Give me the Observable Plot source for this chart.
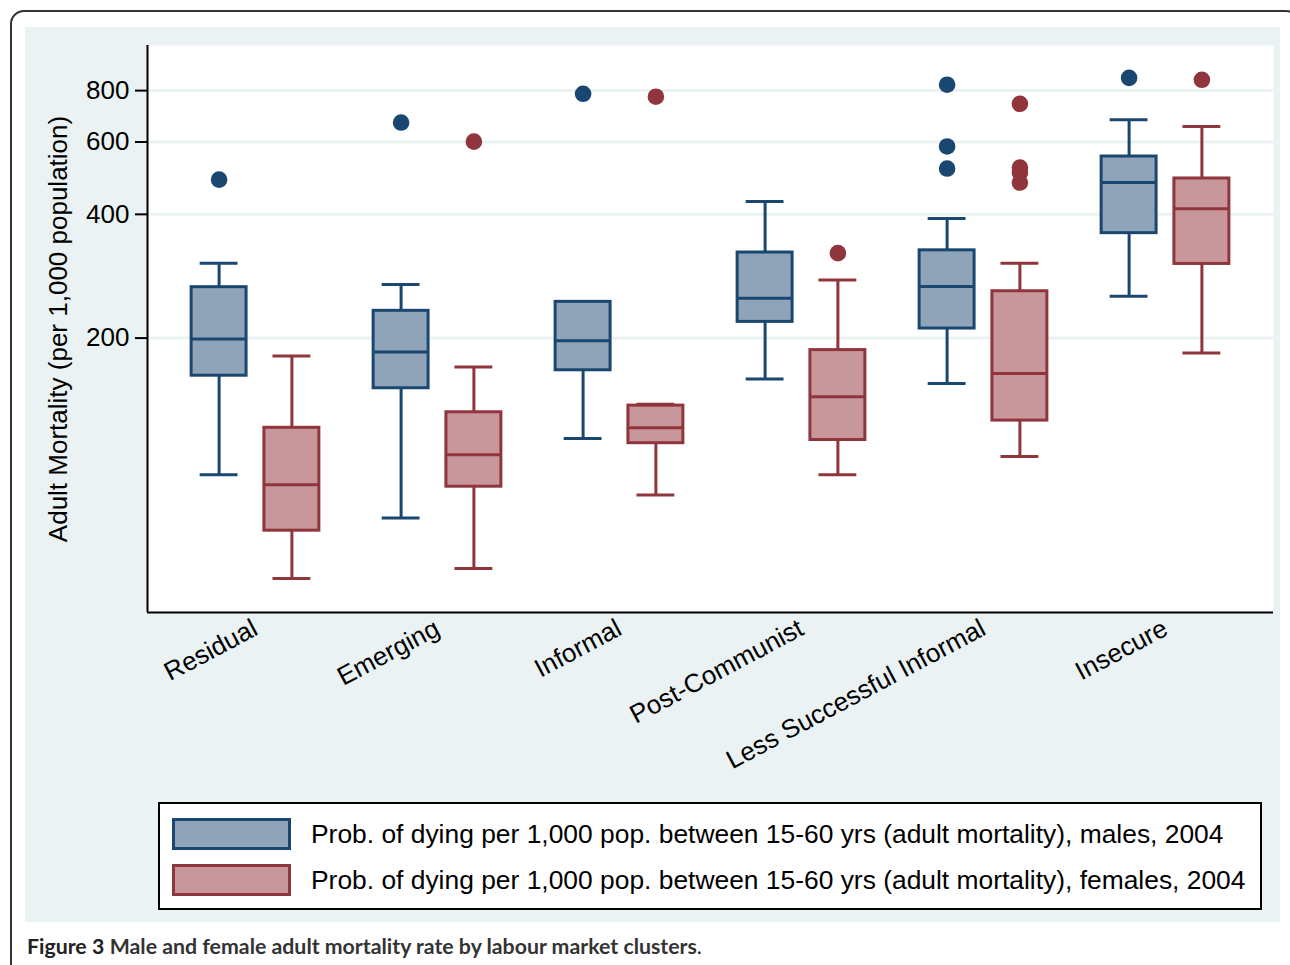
<!DOCTYPE html>
<html>
<head>
<meta charset="utf-8">
<script src="https://cdn.jsdelivr.net/npm/d3@7"></script>
<script src="https://cdn.jsdelivr.net/npm/@observablehq/plot@0.6"></script>
<style>
  html, body { margin: 0; padding: 0; background: #fff; overflow: hidden; width: 1290px; height: 965px; }
  #border { position: absolute; left: 10px; top: 10px; width: 1290px; height: 1000px; border: 2px solid #333; border-radius: 14px; box-sizing: border-box; }
  #panel { position: absolute; left: 25px; top: 27px; width: 1255px; height: 895px; background: #eaf2f3; }
  #chart { position: absolute; left: 0; top: 0; }
  #legend { position: absolute; left: 133px; top: 775px; width: 1104px; height: 108px; background: #fff; border: 2px solid #000; box-sizing: border-box; font-family: "Liberation Sans", Arial, sans-serif; font-size: 26.4px; color: #000; }
  .item { position: absolute; left: 12px; height: 32px; display: flex; align-items: center; }
  .sw { width: 119px; height: 32px; box-sizing: border-box; border: 3px solid; margin-right: 20px; flex: none; }
  #caption { position: absolute; left: 27px; top: 933px; font-family: Lato, "Open Sans", sans-serif; font-size: 21.3px; color: #222; white-space: nowrap; }
  #caption b { font-weight: 700; }
  #caption span { font-weight: 700; color: #333; }
</style>
</head>
<body>
<div id="border"></div>
<div id="panel">
  <div id="chart"></div>
  <div id="legend"></div>
</div>
<div id="caption"><b>Figure 3</b> <span>Male and female adult mortality rate by labour market clusters</span>.</div>
<script>
// ---- data ----
const clusters = ["Residual", "Emerging", "Informal", "Post-Communist", "Less Successful Informal", "Insecure"];
const sexes = ["Males", "Females"];
const legendLabels = [
  "Prob. of dying per 1,000 pop. between 15-60 yrs (adult mortality), males, 2004",
  "Prob. of dying per 1,000 pop. between 15-60 yrs (adult mortality), females, 2004"
];
const yTicks = [200, 400, 600, 800];
const yDomain = [43, 1030];

const maleLow  = [93, 73, 114, 159, 155, 253];
const maleQ1   = [162, 151, 167, 219, 211, 360];
const maleMed  = [199, 185, 197, 250, 267, 478];
const maleQ3   = [266, 233, 245, 323, 327, 553];
const maleHigh = [304, 270, 245, 430, 391, 680];
const maleOut  = [[486], [669], [786], [], [827, 585, 517], [859]];

const femaleLow  = [52, 55, 83, 93, 103, 184];
const femaleQ1   = [68, 87, 111, 113, 126, 303];
const femaleMed  = [88, 104, 121, 144, 164, 413];
const femaleQ3   = [121, 132, 137, 187, 260, 489];
const femaleHigh = [181, 170, 138, 277, 304, 654];
const femaleOut  = [[], [601], [773], [322], [743, 520, 506, 478], [850]];

const strokeColors = ["#1a476f", "#90353b"];
const fillColors = ["#8fa4b9", "#c8979b"];

// layout constants (in category units along x)
const sexOffset = [-0.2, 0.2];
const boxHalf = 0.151;
const capHalf = 0.104;
const xPad = 0.0934;

// ---- tables ----
const stats = [
  [maleLow, maleQ1, maleMed, maleQ3, maleHigh],
  [femaleLow, femaleQ1, femaleMed, femaleQ3, femaleHigh]
];
const rows = [];
clusters.forEach((c, i) => sexes.forEach((s, j) => {
  const [lo, q1, md, q3, hi] = stats[j];
  rows.push({ci: i, si: j, cluster: c, sex: s, pos: i + sexOffset[j],
    low: lo[i], q1: q1[i], med: md[i], q3: q3[i], high: hi[i]});
}));
const outliers = [];
clusters.forEach((c, i) => {
  [maleOut, femaleOut].forEach((arr, j) => arr[i].forEach(v =>
    outliers.push({cluster: c, sex: sexes[j], pos: i + sexOffset[j], value: v})));
});

const font = '"Liberation Sans", Arial, sans-serif';
const sw = 3;
const left = d => d.pos - boxHalf, right = d => d.pos + boxHalf;
const capL = d => d.pos - capHalf, capR = d => d.pos + capHalf;

const chart = Plot.plot({
  width: 1255,
  height: 770,
  marginLeft: 122,
  marginRight: 7,
  marginTop: 18,
  marginBottom: 185,
  style: {fontFamily: font, fontSize: "26px", background: "transparent", color: "#000", overflow: "visible"},
  x: {domain: [-0.5 - xPad, clusters.length - 0.5 + xPad]},
  y: {type: "log", domain: yDomain},
  color: {domain: sexes, range: strokeColors},
  marks: [
    Plot.frame({fill: "white", stroke: "none"}),
    Plot.ruleY(yTicks, {stroke: "#eaf2f3", strokeWidth: 3}),
    // whiskers
    Plot.ruleX(rows, {x: "pos", y1: "q3", y2: "high", stroke: "sex", strokeWidth: sw}),
    Plot.ruleX(rows, {x: "pos", y1: "low", y2: "q1", stroke: "sex", strokeWidth: sw}),
    Plot.ruleY(rows, {y: "high", x1: capL, x2: capR, stroke: "sex", strokeWidth: sw}),
    Plot.ruleY(rows, {y: "low", x1: capL, x2: capR, stroke: "sex", strokeWidth: sw}),
    // boxes
    Plot.rect(rows, {x1: left, x2: right, y1: "q1", y2: "q3", fill: d => fillColors[d.si], stroke: "sex", strokeWidth: sw}),
    Plot.ruleY(rows, {y: "med", x1: left, x2: right, stroke: "sex", strokeWidth: sw}),
    // outliers
    Plot.dot(outliers, {x: "pos", y: "value", fill: "sex", r: 8.3, stroke: "none"}),
    // axes
    Plot.ruleY([yDomain[0]], {stroke: "black", strokeWidth: 2}),
    Plot.ruleX([-0.5 - xPad], {stroke: "black", strokeWidth: 2}),
    Plot.axisY({ticks: yTicks, tickSize: 12, strokeWidth: 2, text: null,
      label: "Adult Mortality (per 1,000 population)", labelAnchor: "center", labelArrow: false, labelOffset: 99}),
    Plot.text(yTicks, {y: d => d, text: d => String(d), frameAnchor: "left", dx: -18, textAnchor: "end", fontSize: 26}),
    Plot.axisX({ticks: d3.range(clusters.length), tickFormat: i => clusters[i], tickSize: 0, tickPadding: 14, tickRotate: -28, label: null})
  ]
});
document.getElementById("chart").appendChild(chart);

// legend
const legend = document.getElementById("legend");
sexes.forEach((s, j) => {
  const item = document.createElement("div");
  item.className = "item";
  item.style.top = (j === 0 ? 14 : 60) + "px";
  const box = document.createElement("div");
  box.className = "sw";
  box.style.background = fillColors[j];
  box.style.borderColor = strokeColors[j];
  const t = document.createElement("span");
  t.textContent = legendLabels[j];
  item.appendChild(box);
  item.appendChild(t);
  legend.appendChild(item);
});
</script>
</body>
</html>
